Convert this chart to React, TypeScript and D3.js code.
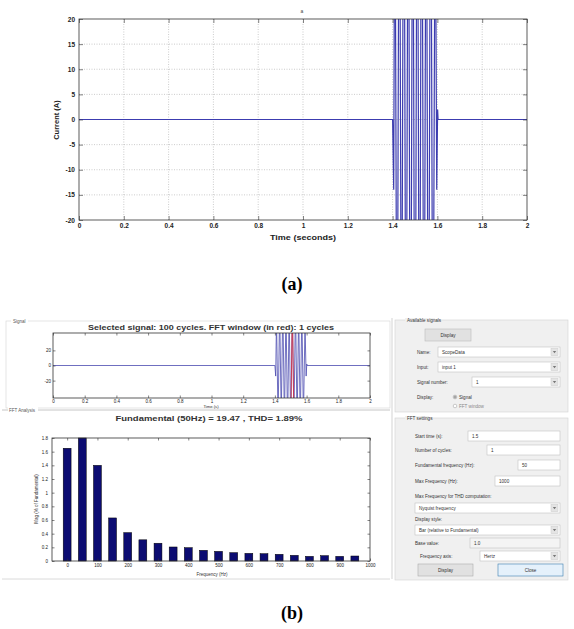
import React, { useRef, useEffect } from "react";
import * as d3 from "d3";

// (a) current waveform
const timeTicks = [0, 0.2, 0.4, 0.6, 0.8, 1, 1.2, 1.4, 1.6, 1.8, 2];
const currentTicks = [-20, -15, -10, -5, 0, 5, 10, 15, 20];
// turning points of the signal: flat, then the burst from 1.4 s to 1.6 s
const waveTime = [
  0, 1.4, 1.405, 1.41, 1.42, 1.43, 1.44, 1.45, 1.46, 1.47, 1.48, 1.49, 1.5,
  1.51, 1.52, 1.53, 1.54, 1.55, 1.56, 1.57, 1.58, 1.59, 1.597, 1.601, 1.603, 2,
];
const waveValue = [
  0, 0, -14, 62, -70, 75, -68, 80, -74, 72, -78, 70, -80,
  76, -72, 78, -75, 70, -76, 74, -70, 55, -14, 2, 0, 0,
];

// (b) powergui FFT tool
const signalTicks = [-20, 0, 20];
const fftWindow = [1.5, 1.52];
const harmonicFreq = [0, 50, 100, 150, 200, 250, 300, 350, 400, 450, 500, 550, 600, 650, 700, 750, 800, 850, 900, 950];
const harmonicMag = [1.65, 1.8, 1.4, 0.63, 0.415, 0.31, 0.26, 0.205, 0.195, 0.156, 0.141, 0.122, 0.112, 0.107, 0.098, 0.083, 0.068, 0.078, 0.068, 0.073];
const magTicks = [0, 0.2, 0.4, 0.6, 0.8, 1, 1.2, 1.4, 1.6, 1.8];
const freqTicks = [0, 100, 200, 300, 400, 500, 600, 700, 800, 900, 1000];

const font = "Liberation Sans, Arial, sans-serif";

// box with inward ticks on four sides, matlab style
function drawAxes(g: any, xs: any, ys: any, xTicks: number[], yTicks: number[], o: any) {
  const [x0, x1] = xs.range();
  const [y1, y0] = ys.range();
  const fmt = (d: any) => String(d);
  const ax = [
    g.append("g").attr("transform", `translate(0,${y1})`)
      .call(d3.axisBottom(xs).tickValues(xTicks).tickSizeInner(-o.tick).tickSizeOuter(0).tickPadding(o.xpad).tickFormat(fmt)),
    g.append("g").attr("transform", `translate(0,${y0})`)
      .call(d3.axisTop(xs).tickValues(xTicks).tickSizeInner(-o.tick).tickSizeOuter(0).tickFormat(() => "")),
    g.append("g").attr("transform", `translate(${x0},0)`)
      .call(d3.axisLeft(ys).tickValues(yTicks).tickSizeInner(-o.tick).tickSizeOuter(0).tickPadding(o.ypad).tickFormat(fmt)),
    g.append("g").attr("transform", `translate(${x1},0)`)
      .call(d3.axisRight(ys).tickValues(yTicks).tickSizeInner(-o.tick).tickSizeOuter(0).tickFormat(() => "")),
  ];
  ax.forEach((a) => {
    a.attr("font-family", font).attr("font-size", o.fs);
    a.select(".domain").remove();
    a.selectAll("line").attr("stroke", "#333").attr("stroke-width", 0.6);
    a.selectAll("text").attr("fill", "#222").attr("font-weight", o.bold ? "bold" : "normal");
  });
  g.append("rect").attr("x", x0).attr("y", y0).attr("width", x1 - x0).attr("height", y1 - y0)
    .attr("fill", "none").attr("stroke", "#333").attr("stroke-width", 0.8);
}

const App = () => {
  const svgRef = useRef<SVGSVGElement>(null);

  useEffect(() => {
    const svg = d3.select(svgRef.current);
    svg.selectAll("*").remove();
    const defs = svg.append("defs");

    /* ---------------- (a) ---------------- */
    const A = { left: 79, right: 527, top: 19, bottom: 220 };
    const xa = d3.scaleLinear().domain([0, 2]).range([A.left, A.right]);
    const ya = d3.scaleLinear().domain([-20, 20]).range([A.bottom, A.top]);
    const ga = svg.append("g");

    ga.selectAll(".vg").data(timeTicks.slice(1, -1)).enter().append("line")
      .attr("x1", (d) => xa(d)).attr("x2", (d) => xa(d)).attr("y1", A.top).attr("y2", A.bottom)
      .attr("stroke", "#aaa").attr("stroke-width", 0.6).attr("stroke-dasharray", "1,1.5");
    ga.selectAll(".hg").data(currentTicks.slice(1, -1)).enter().append("line")
      .attr("x1", A.left).attr("x2", A.right).attr("y1", (d) => ya(d)).attr("y2", (d) => ya(d))
      .attr("stroke", "#aaa").attr("stroke-width", 0.6).attr("stroke-dasharray", "1,1.5");

    defs.append("clipPath").attr("id", "clipA").append("rect")
      .attr("x", A.left).attr("y", A.top).attr("width", A.right - A.left).attr("height", A.bottom - A.top);
    const lineA = d3.line<number>().x((d, i) => xa(waveTime[i])).y((d) => ya(d));
    ga.append("path").datum(waveValue).attr("d", lineA).attr("clip-path", "url(#clipA)")
      .attr("fill", "none").attr("stroke", "#3c3cb0").attr("stroke-width", 1.2);

    drawAxes(ga, xa, ya, timeTicks, currentTicks, { tick: 4, xpad: 3, ypad: 4, fs: 6.5, bold: true });

    ga.append("text").attr("x", 302).attr("y", 13).attr("text-anchor", "middle")
      .attr("font-family", font).attr("font-size", 5).attr("fill", "#444").text("a");
    ga.append("text").attr("x", 303).attr("y", 239.5).attr("text-anchor", "middle")
      .attr("font-family", font).attr("font-size", 7.5).attr("font-weight", "bold").attr("fill", "#222")
      .attr("textLength", 66).attr("lengthAdjust", "spacingAndGlyphs")
      .text("Time (seconds)");
    ga.append("text").attr("transform", "translate(59,120) rotate(-90)").attr("text-anchor", "middle")
      .attr("font-family", font).attr("font-size", 7.5).attr("font-weight", "bold").attr("fill", "#222")
      .text("Current (A)");

    svg.append("text").attr("x", 292).attr("y", 290).attr("text-anchor", "middle")
      .attr("font-family", "Liberation Serif, Times New Roman, serif").attr("font-size", 18)
      .attr("font-weight", "bold").text("(a)");
    svg.append("text").attr("x", 292).attr("y", 619).attr("text-anchor", "middle")
      .attr("font-family", "Liberation Serif, Times New Roman, serif").attr("font-size", 18)
      .attr("font-weight", "bold").text("(b)");

    /* ---------------- (b) left: signal + spectrum ---------------- */
    const gb = svg.append("g");
    // group frames
    gb.append("rect").attr("x", 6).attr("y", 321).attr("width", 384).attr("height", 87)
      .attr("fill", "none").attr("stroke", "#d4d4d4").attr("stroke-width", 0.6);
    gb.append("line").attr("x1", 2).attr("x2", 390).attr("y1", 410).attr("y2", 410)
      .attr("stroke", "#b8b8b8").attr("stroke-width", 0.8);
    gb.append("line").attr("x1", 2).attr("x2", 390).attr("y1", 579).attr("y2", 579)
      .attr("stroke", "#d0d0d0").attr("stroke-width", 0.8);
    gb.append("line").attr("x1", 392).attr("x2", 392).attr("y1", 318).attr("y2", 579)
      .attr("stroke", "#c8c8c8").attr("stroke-width", 0.8);
    gb.append("rect").attr("x", 11).attr("y", 318).attr("width", 17).attr("height", 6).attr("fill", "#fff");
    gb.append("text").attr("x", 13).attr("y", 322.5).attr("font-family", font).attr("font-size", 4.5)
      .attr("fill", "#555").text("Signal");
    gb.append("rect").attr("x", 8).attr("y", 407).attr("width", 30).attr("height", 6).attr("fill", "#fff");
    gb.append("text").attr("x", 9).attr("y", 411.5).attr("font-family", font).attr("font-size", 4.5)
      .attr("fill", "#555").text("FFT Analysis");

    // selected signal
    const xs = d3.scaleLinear().domain([0, 2]).range([53, 370]);
    const ys = d3.scaleLinear().domain([-43, 43]).range([398, 333]);
    defs.append("clipPath").attr("id", "clipS").append("rect")
      .attr("x", 53).attr("y", 333).attr("width", 317).attr("height", 65);
    const lineS = d3.line<number>().x((d, i) => xs(waveTime[i])).y((d) => ys(d));
    gb.append("path").datum(waveValue).attr("d", lineS).attr("clip-path", "url(#clipS)")
      .attr("fill", "none").attr("stroke", "#4a4ab0").attr("stroke-width", 0.8);
    const winIdx = waveTime.map((t, i) => i).filter((i) => waveTime[i] >= fftWindow[0] && waveTime[i] <= fftWindow[1]);
    const lineW = d3.line<number>().x((i) => xs(waveTime[i])).y((i) => ys(waveValue[i]));
    gb.append("path").datum(winIdx).attr("d", lineW).attr("clip-path", "url(#clipS)")
      .attr("fill", "none").attr("stroke", "#e0303a").attr("stroke-width", 0.8);
    drawAxes(gb, xs, ys, timeTicks, signalTicks, { tick: 2.5, xpad: 2, ypad: 2, fs: 4.5, bold: false });
    gb.append("text").attr("x", 211).attr("y", 330).attr("text-anchor", "middle")
      .attr("font-family", font).attr("font-size", 8).attr("font-weight", "bold").attr("fill", "#333")
      .attr("textLength", 246).attr("lengthAdjust", "spacingAndGlyphs")
      .text("Selected signal: 100 cycles. FFT window (in red): 1 cycles");
    gb.append("text").attr("x", 211).attr("y", 408).attr("text-anchor", "middle")
      .attr("font-family", font).attr("font-size", 4.2).attr("fill", "#333").text("Time (s)");

    // spectrum
    const xf = d3.scaleLinear().domain([-50, 1000]).range([52, 370]);
    const yf = d3.scaleLinear().domain([0, 1.8]).range([561, 438]);
    const bw = 26;
    gb.selectAll(".bar").data(harmonicMag).enter().append("rect")
      .attr("x", (d, i) => xf(harmonicFreq[i] - bw / 2))
      .attr("width", xf(bw) - xf(0))
      .attr("y", (d) => yf(d))
      .attr("height", (d) => yf(0) - yf(d))
      .attr("fill", "#0c0c72").attr("stroke", "#000").attr("stroke-width", 0.5);
    drawAxes(gb, xf, yf, freqTicks, magTicks, { tick: 2.5, xpad: 3, ypad: 4, fs: 4.5, bold: false });
    gb.append("text").attr("x", 209).attr("y", 421).attr("text-anchor", "middle")
      .attr("font-family", font).attr("font-size", 8).attr("font-weight", "bold").attr("fill", "#333")
      .attr("textLength", 187).attr("lengthAdjust", "spacingAndGlyphs")
      .text("Fundamental (50Hz) = 19.47 , THD= 1.89%");
    gb.append("text").attr("x", 212).attr("y", 576).attr("text-anchor", "middle")
      .attr("font-family", font).attr("font-size", 4.5).attr("fill", "#333").text("Frequency (Hz)");
    gb.append("text").attr("transform", "translate(38,499) rotate(-90)").attr("text-anchor", "middle")
      .attr("font-family", font).attr("font-size", 4.5).attr("fill", "#333").text("Mag (% of Fundamental)");

    /* ---------------- (b) right: settings panel ---------------- */
    const ui = svg.append("g").attr("font-family", font).attr("font-size", 4.6).attr("fill", "#333");
    const box = (x: number, y: number, w: number, h: number, fill: string, stroke: string) =>
      ui.append("rect").attr("x", x).attr("y", y).attr("width", w).attr("height", h)
        .attr("fill", fill).attr("stroke", stroke).attr("stroke-width", 0.6);
    const label = (x: number, y: number, t: string, c = "#333") =>
      ui.append("text").attr("x", x).attr("y", y).attr("dy", "0.35em").attr("fill", c).text(t);
    const field = (x: number, y: number, t: string, drop: boolean, fill = "#fff") => {
      box(x, y - 5, 560 - x, 10, fill, "#c2c2c2");
      if (t) label(x + 4, y, t);
      if (drop) {
        box(551, y - 3.5, 7, 7, "#e4e4e4", "#cfcfcf");
        ui.append("path").attr("d", `M552.8,${y - 1} L556.2,${y - 1} L554.5,${y + 1.2} Z`).attr("fill", "#777");
      }
    };

    box(395, 320, 173, 92, "#f0f0f0", "#d2d2d2");
    box(405, 318, 30, 5, "#f0f0f0", "none");
    label(407, 320.5, "Available signals");
    box(425, 329, 46, 12, "#e1e1e1", "#bdbdbd");
    ui.append("text").attr("x", 448).attr("y", 335).attr("dy", "0.35em").attr("text-anchor", "middle").text("Display");
    label(417, 352, "Name:");
    field(438, 352, "ScopeData", true);
    label(417, 367, "Input:");
    field(438, 367, "input 1", true);
    label(417, 382, "Signal number:");
    field(472, 382, "1", true);
    label(417, 397, "Display:");
    ui.append("circle").attr("cx", 455).attr("cy", 397).attr("r", 1.8).attr("fill", "#fff").attr("stroke", "#777").attr("stroke-width", 0.5);
    ui.append("circle").attr("cx", 455).attr("cy", 397).attr("r", 0.8).attr("fill", "#333");
    label(459, 397, "Signal");
    ui.append("circle").attr("cx", 455).attr("cy", 406).attr("r", 1.8).attr("fill", "#fff").attr("stroke", "#999").attr("stroke-width", 0.5);
    label(459, 406, "FFT window", "#888");

    box(395, 418, 173, 162, "#f0f0f0", "#d2d2d2");
    box(405, 416, 24, 5, "#f0f0f0", "none");
    label(407, 418.5, "FFT settings");
    label(415, 436, "Start time (s):");
    field(468, 436, "1.5", false);
    label(415, 450, "Number of cycles:");
    field(487, 450, "1", false);
    label(415, 465, "Fundamental frequency (Hz):");
    field(518, 465, "50", false);
    label(415, 481, "Max Frequency (Hz):");
    field(495, 481, "1000", false);
    label(415, 496, "Max Frequency for THD computation:");
    field(415, 508, "Nyquist frequency", true);
    label(415, 519, "Display style:");
    field(415, 530, "Bar (relative to Fundamental)", true);
    label(415, 543, "Base value:");
    field(470, 543, "1.0", false, "#f4f4f4");
    label(420, 556, "Frequency axis:");
    field(480, 556, "Hertz", true);
    box(418, 564, 55, 12, "#e1e1e1", "#adadad");
    ui.append("text").attr("x", 445.5).attr("y", 570).attr("dy", "0.35em").attr("text-anchor", "middle").text("Display");
    box(498, 564, 65, 12, "#e5f1fb", "#3c7fb1");
    ui.append("text").attr("x", 530.5).attr("y", 570).attr("dy", "0.35em").attr("text-anchor", "middle").text("Close");
  }, []);

  return (
    <svg
      ref={svgRef}
      width={574}
      height={629}
      style={{ position: "absolute", left: 0, top: 0, background: "#fff" }}
    />
  );
};

export default App;
